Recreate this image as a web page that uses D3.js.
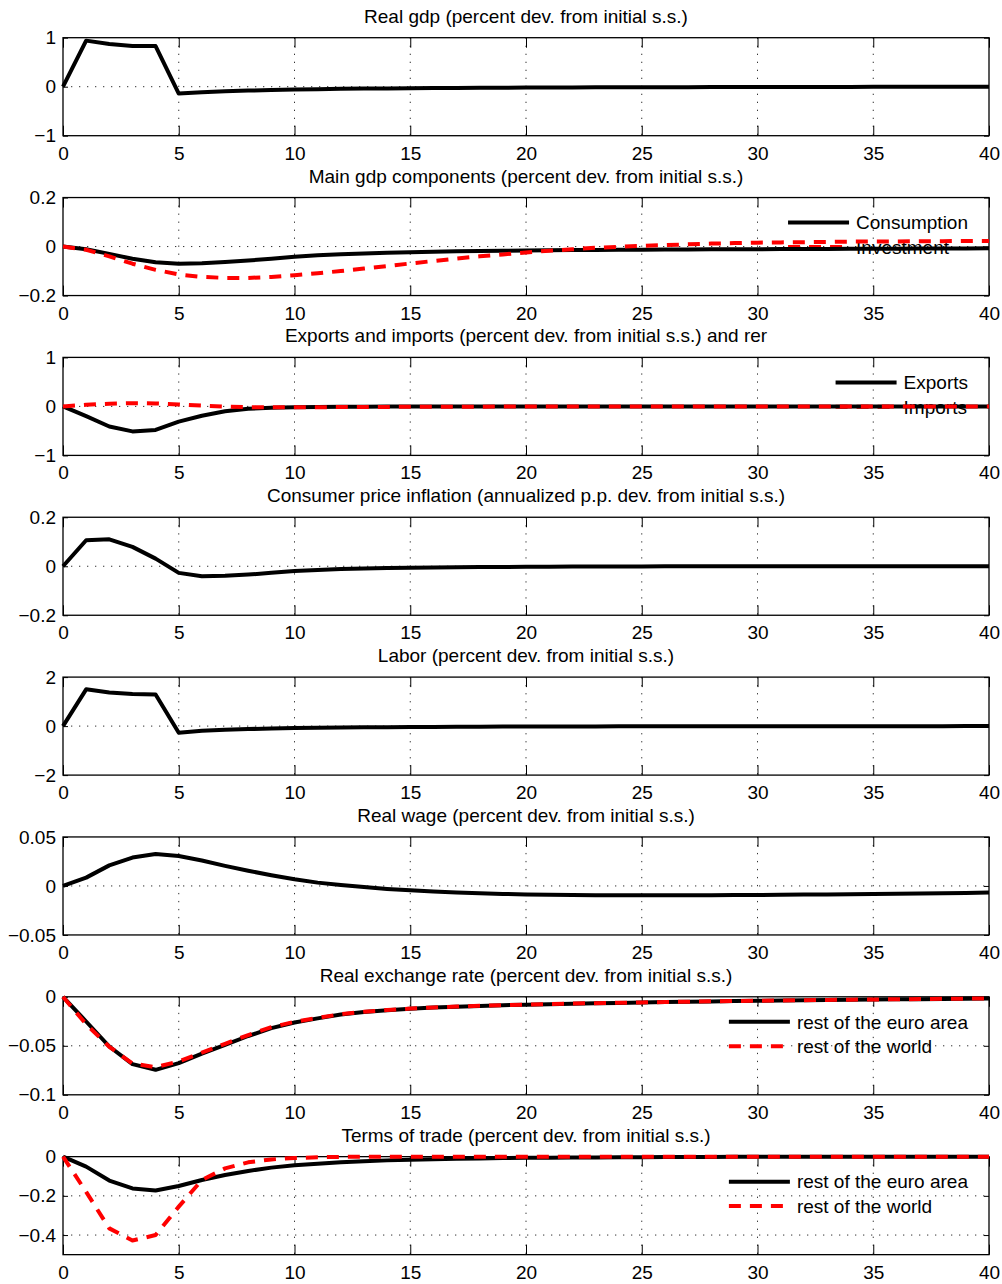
<!DOCTYPE html>
<html>
<head>
<meta charset="utf-8">
<script src="https://cdn.jsdelivr.net/npm/d3@7"></script>
<style>
body { margin: 0; background: #fff; }
text { font-family: "Liberation Sans", Arial, Helvetica, sans-serif; fill: #000; }
</style>
</head>
<body>
<svg class="chart" width="1002" height="1284"></svg>
<script>
// impulse responses, quarters 0..40
var xTicks = [0, 5, 10, 15, 20, 25, 30, 35, 40];

var gdp = [0, 0.94, 0.87, 0.83, 0.83, -0.14, -0.115, -0.095, -0.08, -0.068, -0.058, -0.05, -0.044, -0.039, -0.035, -0.031, -0.028, -0.025, -0.022, -0.02, -0.018, -0.016, -0.015, -0.013, -0.012, -0.011, -0.01, -0.009, -0.008, -0.007, -0.006, -0.006, -0.005, -0.004, -0.004, -0.003, -0.003, -0.002, -0.002, -0.001, -0.001];

var consumption = [0, -0.011, -0.03, -0.05, -0.064, -0.07, -0.068, -0.063, -0.057, -0.05, -0.042, -0.036, -0.031, -0.028, -0.025, -0.023, -0.021, -0.019, -0.018, -0.017, -0.016, -0.015, -0.014, -0.014, -0.013, -0.013, -0.012, -0.012, -0.011, -0.011, -0.011, -0.01, -0.01, -0.01, -0.009, -0.009, -0.009, -0.008, -0.008, -0.008, -0.007];
var investment = [0, -0.013, -0.04, -0.07, -0.095, -0.114, -0.124, -0.128, -0.128, -0.124, -0.117, -0.109, -0.1, -0.09, -0.08, -0.069, -0.059, -0.049, -0.04, -0.032, -0.024, -0.017, -0.011, -0.005, -0.001, 0.003, 0.006, 0.009, 0.012, 0.014, 0.016, 0.017, 0.018, 0.019, 0.02, 0.021, 0.021, 0.022, 0.022, 0.023, 0.023];

var exports = [0, -0.2, -0.41, -0.51, -0.48, -0.31, -0.19, -0.1, -0.05, -0.03, -0.018, -0.011, -0.007, -0.005, -0.003, -0.002, -0.002, -0.001, -0.001, -0.001, -0.001, 0, 0, 0, 0, 0, 0, 0, 0, 0, 0, 0, 0, 0, 0, 0, 0, 0, 0, 0, 0];
var imports = [0, 0.034, 0.054, 0.066, 0.06, 0.04, 0.015, -0.005, -0.015, -0.018, -0.018, -0.016, -0.014, -0.012, -0.01, -0.008, -0.007, -0.006, -0.005, -0.004, -0.003, -0.003, -0.002, -0.002, -0.002, -0.001, -0.001, -0.001, -0.001, -0.001, 0, 0, 0, 0, 0, 0, 0, 0, 0, 0, 0];

var inflation = [0, 0.106, 0.11, 0.079, 0.031, -0.027, -0.041, -0.039, -0.034, -0.027, -0.019, -0.015, -0.011, -0.009, -0.007, -0.006, -0.005, -0.004, -0.003, -0.003, -0.002, -0.002, -0.001, -0.001, -0.001, -0.001, 0, 0, 0, 0, 0, 0, 0, 0, 0, 0, 0, 0, 0, 0, 0];

var labor = [0, 1.5, 1.37, 1.31, 1.29, -0.27, -0.19, -0.15, -0.12, -0.1, -0.08, -0.068, -0.058, -0.05, -0.043, -0.037, -0.032, -0.028, -0.024, -0.021, -0.018, -0.016, -0.014, -0.012, -0.011, -0.01, -0.009, -0.008, -0.007, -0.006, -0.005, -0.005, -0.004, -0.004, -0.003, -0.003, -0.002, -0.002, -0.002, -0.001, -0.001];

var realWage = [0, 0.0085, 0.021, 0.029, 0.0325, 0.0305, 0.026, 0.0205, 0.0155, 0.011, 0.0068, 0.0034, 0.001, -0.001, -0.003, -0.0045, -0.0057, -0.0067, -0.0075, -0.0081, -0.0086, -0.009, -0.0093, -0.0095, -0.0096, -0.0096, -0.0096, -0.0095, -0.0094, -0.0093, -0.0092, -0.009, -0.0088, -0.0086, -0.0084, -0.0082, -0.008, -0.0077, -0.0074, -0.0071, -0.0068];

var rerEuro = [0, -0.0252, -0.0507, -0.0687, -0.0745, -0.0677, -0.058, -0.049, -0.04, -0.032, -0.0262, -0.022, -0.018, -0.0155, -0.0137, -0.0122, -0.011, -0.0101, -0.0093, -0.0086, -0.008, -0.0075, -0.007, -0.0066, -0.0062, -0.0058, -0.0054, -0.0051, -0.0047, -0.0044, -0.0041, -0.0038, -0.0035, -0.0033, -0.003, -0.0028, -0.0026, -0.0024, -0.0022, -0.002, -0.0018];
var rerWorld = [0, -0.028, -0.051, -0.068, -0.0718, -0.066, -0.057, -0.048, -0.039, -0.031, -0.0255, -0.0215, -0.0178, -0.0153, -0.0135, -0.012, -0.0109, -0.01, -0.0092, -0.0085, -0.0079, -0.0074, -0.0069, -0.0065, -0.0061, -0.0057, -0.0053, -0.005, -0.0046, -0.0043, -0.004, -0.0037, -0.0034, -0.0032, -0.0029, -0.0027, -0.0025, -0.0023, -0.0021, -0.0019, -0.0017];

var totEuro = [0, -0.051, -0.122, -0.162, -0.173, -0.15, -0.119, -0.094, -0.073, -0.056, -0.044, -0.036, -0.029, -0.024, -0.019, -0.016, -0.013, -0.011, -0.009, -0.007, -0.006, -0.005, -0.004, -0.004, -0.003, -0.003, -0.002, -0.002, -0.002, -0.001, -0.001, -0.001, -0.001, 0, 0, 0, 0, 0, 0, 0, 0];
var totWorld = [0, -0.18, -0.366, -0.428, -0.4, -0.255, -0.119, -0.06, -0.029, -0.014, -0.007, -0.003, -0.001, 0, 0, 0, 0, 0, 0, 0, 0, 0, 0, 0, 0, 0, 0, 0, 0, 0, 0, 0, 0, 0, 0, 0, 0, 0, 0, 0, 0];

var titles = [
  "Real gdp (percent dev. from initial s.s.)",
  "Main gdp components (percent dev. from initial s.s.)",
  "Exports and imports (percent dev. from initial s.s.) and rer",
  "Consumer price inflation (annualized p.p. dev. from initial s.s.)",
  "Labor (percent dev. from initial s.s.)",
  "Real wage (percent dev. from initial s.s.)",
  "Real exchange rate (percent dev. from initial s.s.)",
  "Terms of trade (percent dev. from initial s.s.)"
];

var yLimits = [[-1, 1], [-0.2, 0.2], [-1, 1], [-0.2, 0.2], [-2, 2], [-0.05, 0.05], [-0.1, 0], [-0.5, 0]];
var yTicks = [[-1, 0, 1], [-0.2, 0, 0.2], [-1, 0, 1], [-0.2, 0, 0.2], [-2, 0, 2], [-0.05, 0, 0.05], [-0.1, -0.05, 0], [-0.4, -0.2, 0]];

var panelSeries = [
  [gdp],
  [consumption, investment],
  [exports, imports],
  [inflation],
  [labor],
  [realWage],
  [rerEuro, rerWorld],
  [totEuro, totWorld]
];
var panelLegends = [
  null,
  ["Consumption", "Investment"],
  ["Exports", "Imports"],
  null, null, null,
  ["rest of the euro area", "rest of the world"],
  ["rest of the euro area", "rest of the world"]
];

var margin = {left: 63, right: 13},
    width = 1002 - margin.left - margin.right,
    panelTop = 37.7, panelStep = 159.85, panelHeight = 98;

var x = d3.scaleLinear().domain([0, 40]).range([0, width]);

var styles = [
  {stroke: "#000", dash: null},
  {stroke: "#ff0000", dash: "12,9"}
];

var svg = d3.select(".chart");

function fmt(v) { return String(v).replace("-", "\u2212"); }

titles.forEach(function(title, p) {
  var y = d3.scaleLinear().domain(yLimits[p]).range([panelHeight, 0]);
  var g = svg.append("g")
      .attr("transform", "translate(" + margin.left + "," + (panelTop + p * panelStep) + ")");

  // dotted grid
  g.selectAll(".vgrid")
    .data(xTicks.filter(function(d) { return d > 0 && d < 40; }))
    .enter().append("line")
      .attr("x1", x).attr("x2", x)
      .attr("y1", 0).attr("y2", panelHeight)
      .attr("stroke", "#333").attr("stroke-width", 1)
      .attr("stroke-dasharray", "1.3,6.7");
  g.selectAll(".hgrid")
    .data(yTicks[p].filter(function(d) { return d > yLimits[p][0] && d < yLimits[p][1]; }))
    .enter().append("line")
      .attr("x1", 0).attr("x2", width)
      .attr("y1", y).attr("y2", y)
      .attr("stroke", "#333").attr("stroke-width", 1)
      .attr("stroke-dasharray", "1.3,6.7");

  // axes, ticks inside like matlab
  g.append("g")
      .attr("class", "x axis")
      .attr("transform", "translate(0," + panelHeight + ")")
      .call(d3.axisBottom(x).tickValues(xTicks).tickSize(-10).tickSizeOuter(0).tickPadding(10.5).tickFormat(fmt));
  g.append("g")
      .call(d3.axisTop(x).tickValues(xTicks).tickSize(-10).tickSizeOuter(0).tickFormat(""));
  g.append("g")
      .attr("class", "y axis")
      .call(d3.axisLeft(y).tickValues(yTicks[p]).tickSize(-5).tickSizeOuter(0).tickPadding(7).tickFormat(fmt));
  g.append("g")
      .attr("transform", "translate(" + width + ",0)")
      .call(d3.axisRight(y).tickValues(yTicks[p]).tickSize(-5).tickSizeOuter(0).tickFormat(""));

  g.selectAll(".tick line").attr("stroke", "#000").attr("stroke-width", 1);
  g.selectAll(".domain").remove();
  g.selectAll(".tick text").style("font-size", "19px").attr("font-family", null);

  g.append("rect")
      .attr("width", width).attr("height", panelHeight)
      .attr("fill", "none").attr("stroke", "#000").attr("stroke-width", 1.3);

  g.append("text")
      .attr("x", width / 2)
      .attr("y", -15)
      .attr("text-anchor", "middle")
      .style("font-size", "19px")
      .text(title);

  // legend (no box), sits under the lines
  var names = panelLegends[p];
  if (names) {
    var leg = g.append("g");
    var texts = leg.selectAll("text")
      .data(names)
      .enter().append("text")
        .attr("y", function(d, i) { return 25 + i * 24.4; })
        .attr("dy", "0.36em")
        .style("font-size", "19px")
        .text(function(d) { return d; });
    var maxW = d3.max(texts.nodes(), function(n) { return n.getComputedTextLength(); });
    var tx = width - 21 - maxW;
    texts.attr("x", tx);
    leg.selectAll("line")
      .data(names)
      .enter().append("line")
        .attr("x1", tx - 68).attr("x2", tx - 7)
        .attr("y1", function(d, i) { return 25 + i * 24.4; })
        .attr("y2", function(d, i) { return 25 + i * 24.4; })
        .attr("stroke", function(d, i) { return styles[i].stroke; })
        .attr("stroke-dasharray", function(d, i) { return styles[i].dash; })
        .attr("stroke-width", 4);
  }

  var line = d3.line()
      .x(function(d, i) { return x(i); })
      .y(function(d) { return y(d); });

  g.selectAll(".serie")
    .data(panelSeries[p])
    .enter().append("path")
      .attr("class", "serie")
      .attr("d", line)
      .attr("fill", "none")
      .attr("stroke", function(d, i) { return styles[i].stroke; })
      .attr("stroke-dasharray", function(d, i) { return styles[i].dash; })
      .attr("stroke-width", 4)
      .attr("stroke-linejoin", "round");
});
</script>
</body>
</html>
